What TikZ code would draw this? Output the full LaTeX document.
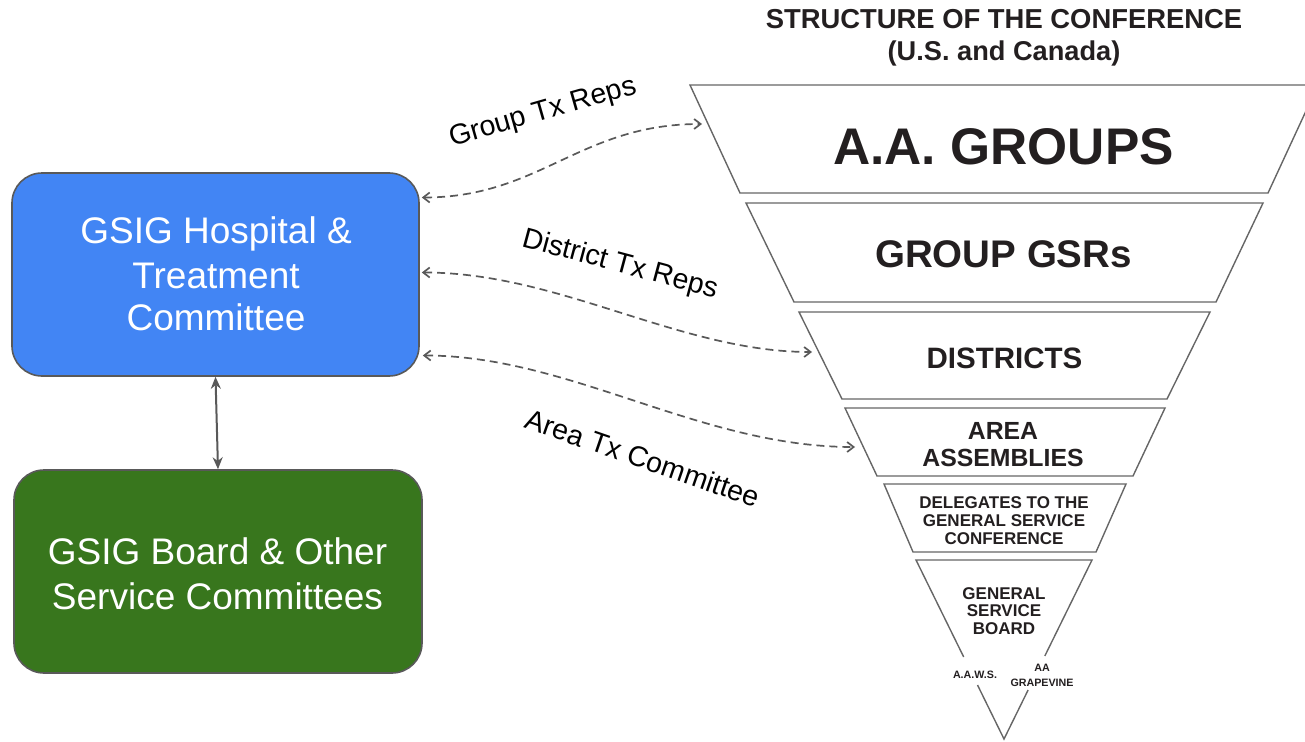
\documentclass[tikz,border=0pt]{standalone}
\usepackage{fontspec}
\setmainfont{Liberation Sans}
\usetikzlibrary{arrows.meta,calc}
\definecolor{gblue}{HTML}{4285F4}
\definecolor{ggreen}{HTML}{38761D}
\definecolor{edgegray}{HTML}{595959}
\definecolor{tiergray}{HTML}{666666}
\definecolor{ink}{HTML}{231F20}
\begin{document}
\begin{tikzpicture}[x=1pt,y=-1pt,
  box/.style={draw=edgegray, line width=1.6pt, rounded corners=30pt, inner sep=0pt},
  tier/.style={draw=tiergray, line width=1.4pt, line join=miter},
  tiertext/.style={text=ink, anchor=base, inner sep=0pt},
  boxtext/.style={text=white, anchor=base, inner sep=0pt, font=\fontsize{37}{44}\selectfont},
  lbl/.style={font=\fontsize{28.5}{34}\selectfont, inner sep=0pt, text=black},
  link/.style={draw=edgegray, line width=1.7pt, dash pattern=on 8pt off 5pt,
    {Straight Barb[length=6.5pt,width=10pt]}-{Straight Barb[length=6.5pt,width=10pt]}},
  solidlink/.style={draw=edgegray, line width=2pt,
    {Stealth[length=12pt,width=10pt]}-{Stealth[length=12pt,width=10pt]}},
]
\useasboundingbox (0,0) rectangle (1305,741);

% ---- title ----
\node[tiertext, font=\fontsize{27.4}{32}\selectfont\bfseries] (title1) at (1004,28.3) {STRUCTURE OF THE CONFERENCE};
\node[tiertext, font=\fontsize{27.2}{32}\selectfont\bfseries] (title2) at (1004,61) {(U.S. and Canada)};

% ---- inverted pyramid ----
\draw[tier] (690,85) -- (1318,85) -- (1268,193) -- (740,193) -- cycle;
\node[tiertext, font=\fontsize{51.5}{60}\selectfont\bfseries] (groups) at (1003.5,164) {A.A. GROUPS};

\draw[tier] (746,203) -- (1263,203) -- (1216,302) -- (794,302) -- cycle;
\node[tiertext, font=\fontsize{38.5}{44}\selectfont\bfseries] (gsrs) at (1003.5,267) {GROUP GSRs};

\draw[tier] (799,312) -- (1210,312) -- (1167,399) -- (842,399) -- cycle;
\node[tiertext, font=\fontsize{29.5}{34}\selectfont\bfseries] (districts) at (1004.5,368.5) {DISTRICTS};

\draw[tier] (845,408) -- (1165,408) -- (1133,476) -- (877,476) -- cycle;
\node[tiertext, font=\fontsize{24.8}{28}\selectfont\bfseries] (area1) at (1003,439) {AREA};
\node[tiertext, font=\fontsize{24.8}{28}\selectfont\bfseries] (area2) at (1003,466) {ASSEMBLIES};

\draw[tier] (884,484) -- (1126,484) -- (1096,552) -- (913,552) -- cycle;
\node[tiertext, font=\fontsize{17}{18}\selectfont\bfseries] (del1) at (1004,508) {DELEGATES TO THE};
\node[tiertext, font=\fontsize{17}{18}\selectfont\bfseries] (del2) at (1004,526) {GENERAL SERVICE};
\node[tiertext, font=\fontsize{17}{18}\selectfont\bfseries] (del3) at (1004,544) {CONFERENCE};

\draw[tier] (963.7,657) -- (916,560) -- (1092,560) -- (1044.8,656);
\draw[tier] (977.5,685) -- (1004,739) -- (1028.1,690);
\node[tiertext, font=\fontsize{17}{18}\selectfont\bfseries] (gsb1) at (1004,599) {GENERAL};
\node[tiertext, font=\fontsize{17}{18}\selectfont\bfseries] (gsb2) at (1004,616) {SERVICE};
\node[tiertext, font=\fontsize{17}{18}\selectfont\bfseries] (gsb3) at (1004,634) {BOARD};
\node[tiertext, font=\fontsize{10.7}{12}\selectfont\bfseries] (aaws) at (975,678) {A.A.W.S.};
\node[tiertext, font=\fontsize{10.7}{12}\selectfont\bfseries] (gv1) at (1042,671) {AA};
\node[tiertext, font=\fontsize{10.7}{12}\selectfont\bfseries] (gv2) at (1042,686) {GRAPEVINE};

% ---- left boxes ----
\node[box, fill=gblue, minimum width=407pt, minimum height=203pt] (hosp) at (215.5,274.5) {};
\node[boxtext] (h1) at (216,243.5) {GSIG Hospital \&};
\node[boxtext] (h2) at (216,288.3) {Treatment};
\node[boxtext] (h3) at (216,330.5) {Committee};

\node[box, fill=ggreen, minimum width=408pt, minimum height=203pt] (board) at (218,571.5) {};
\node[boxtext] (b1) at (217.5,564) {GSIG Board \& Other};
\node[boxtext] (b2) at (217.5,609) {Service Committees};

\draw[solidlink] (hosp.south) -- (board.north);

% ---- connector end points on the pyramid ----
\coordinate (c1) at (702,124);
\coordinate (c2) at (812,352);
\coordinate (c3) at (855,447);
\coordinate (s1) at ($(hosp.east)+(2,-77)$);
\coordinate (s2) at ($(hosp.east)+(2,-2)$);
\coordinate (s3) at ($(hosp.east)+(3,81)$);

\draw[link] (s1) .. controls (540,197.5) and (580,124) .. (c1);
\draw[link] (s2) .. controls (560,272.5) and (680,352) .. (c2);
\draw[link] (s3) .. controls (570,355.5) and (700,447) .. (c3);

\node[lbl, rotate=16] (l1) at (543,113) {Group Tx Reps};
\node[lbl, rotate=-15] (l2) at (620,265) {District Tx Reps};
\node[lbl, rotate=-19] (l3) at (643,458) {Area Tx Committee};
\end{tikzpicture}
\end{document}
